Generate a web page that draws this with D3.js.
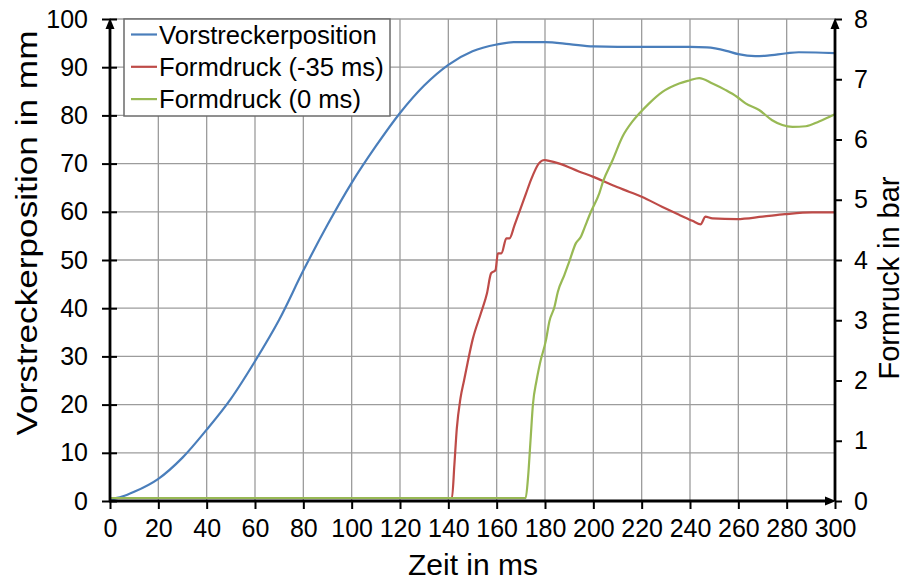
<!DOCTYPE html>
<html>
<head>
<meta charset="utf-8">
<script src="https://cdn.jsdelivr.net/npm/d3@7"></script>
<style>
  body { margin: 0; background: #fff; }
  svg { font-family: Arial, "Liberation Sans", sans-serif; }
</style>
</head>
<body>
<div id="chart"></div>
<script>
// time axis (ms)
var xTicks = [0, 20, 40, 60, 80, 100, 120, 140, 160, 180, 200, 220, 240, 260, 280, 300];
var leftTicks = [0, 10, 20, 30, 40, 50, 60, 70, 80, 90, 100];
var rightTicks = [0, 1, 2, 3, 4, 5, 6, 7, 8];

// Vorstreckerposition in mm
var blueT = [0, 5, 10, 20, 30, 40, 50, 60, 70, 80, 90, 100, 110, 120, 130, 140, 150, 160, 167, 180, 190, 200, 210, 220, 230, 240, 247, 255, 260, 267, 272, 280, 285, 295, 300];
var blueV = [0.3, 0.9, 1.9, 4.6, 9.0, 14.8, 21.2, 29.0, 37.6, 47.8, 57.3, 66.0, 73.6, 80.5, 86.2, 90.5, 93.3, 94.7, 95.2, 95.2, 94.8, 94.3, 94.2, 94.2, 94.2, 94.2, 94.1, 93.4, 92.7, 92.3, 92.4, 92.9, 93.1, 93.0, 92.9];

// Formdruck (-35 ms) in bar
var redT = [0, 141.5, 142.5, 143.5, 145, 146.5, 148, 150, 153.5, 156, 157.7, 159.5, 160.5, 162, 164, 165.3, 167.4, 169.4, 172.2, 174.2, 177.4, 179.8, 181.2, 186, 194, 200, 208, 215, 220, 228.6, 235.5, 241, 244.5, 245.2, 246.3, 249.3, 259.4, 270, 279.3, 290.6, 300];
var redP = [0.05, 0.05, 0.6, 1.2, 1.7, 2.0, 2.3, 2.67, 3.12, 3.45, 3.78, 3.83, 4.11, 4.11, 4.36, 4.36, 4.58, 4.80, 5.11, 5.33, 5.60, 5.66, 5.65, 5.60, 5.47, 5.38, 5.24, 5.13, 5.05, 4.88, 4.75, 4.65, 4.59, 4.64, 4.72, 4.69, 4.68, 4.72, 4.76, 4.79, 4.79];

// Formdruck (0 ms) in bar
var greenT = [0, 172, 173, 174, 175, 176.5, 178, 180.4, 181.8, 183.9, 185.3, 188, 190, 192.8, 194.9, 196.3, 199, 202.5, 204, 208, 212.1, 216.2, 219, 223.1, 228.6, 235.5, 239.7, 243.8, 249.3, 254.8, 259.4, 263, 268.6, 274, 278.2, 282.4, 287.9, 293.4, 300];
var greenP = [0.05, 0.05, 0.4, 1.0, 1.6, 2.0, 2.3, 2.67, 2.98, 3.22, 3.47, 3.75, 3.97, 4.28, 4.39, 4.53, 4.80, 5.11, 5.3, 5.66, 6.05, 6.30, 6.43, 6.60, 6.79, 6.93, 6.98, 7.02, 6.93, 6.82, 6.71, 6.60, 6.49, 6.32, 6.24, 6.21, 6.22, 6.30, 6.42];

var seriesNames = ["Vorstreckerposition", "Formdruck (-35 ms)", "Formdruck (0 ms)"];
var seriesColors = ["#4a7ebb", "#be4b48", "#98b954"];

var svgWidth = 907, svgHeight = 582;
var margin = { top: 19, right: 72, bottom: 81, left: 110 };
var width = svgWidth - margin.left - margin.right;
var height = svgHeight - margin.top - margin.bottom;

var svg = d3.select("#chart").append("svg")
  .attr("width", svgWidth)
  .attr("height", svgHeight);

var g = svg.append("g")
  .attr("transform", "translate(" + margin.left + "," + margin.top + ")");

var x = d3.scaleLinear().domain([0, 300]).range([0, width]);
var yL = d3.scaleLinear().domain([0, 100]).range([height, 0]);
var yR = d3.scaleLinear().domain([0, 8]).range([height, 0]);

// grid
g.append("g").selectAll("line").data(xTicks.slice(1)).enter().append("line")
  .attr("x1", function (d) { return x(d); })
  .attr("x2", function (d) { return x(d); })
  .attr("y1", 0).attr("y2", height)
  .attr("stroke", "#9c9c9c").attr("stroke-width", 1.3);
g.append("g").selectAll("line").data(leftTicks.slice(1)).enter().append("line")
  .attr("x1", 0).attr("x2", width)
  .attr("y1", function (d) { return yL(d); })
  .attr("y2", function (d) { return yL(d); })
  .attr("stroke", "#9c9c9c").attr("stroke-width", 1.3);

// lines
function zip(ts, vs) {
  return ts.map(function (t, i) { return { t: t, v: vs[i] }; });
}
var lineL = d3.line().curve(d3.curveMonotoneX)
  .x(function (d) { return x(d.t); }).y(function (d) { return yL(d.v); });
var lineR = d3.line().curve(d3.curveMonotoneX)
  .x(function (d) { return x(d.t); }).y(function (d) { return yR(d.v); });

g.append("path").datum(zip(blueT, blueV))
  .attr("fill", "none").attr("stroke", seriesColors[0]).attr("stroke-width", 2.2)
  .attr("stroke-linejoin", "round").attr("d", lineL);
g.append("path").datum(zip(redT, redP))
  .attr("fill", "none").attr("stroke", seriesColors[1]).attr("stroke-width", 2.2)
  .attr("stroke-linejoin", "round").attr("d", lineR);
g.append("path").datum(zip(greenT, greenP))
  .attr("fill", "none").attr("stroke", seriesColors[2]).attr("stroke-width", 2.2)
  .attr("stroke-linejoin", "round").attr("d", lineR);

// axes
var axB = g.append("g")
  .attr("transform", "translate(0," + height + ")")
  .call(d3.axisBottom(x).tickValues(xTicks).tickSize(8).tickPadding(10));
var axL = g.append("g")
  .call(d3.axisLeft(yL).tickValues(leftTicks).tickSize(8).tickPadding(14));
var axR = g.append("g")
  .attr("transform", "translate(" + width + ",0)")
  .call(d3.axisRight(yR).tickValues(rightTicks).tickSize(7).tickPadding(12));

[axB, axL, axR].forEach(function (a) {
  a.select(".domain").remove();
  a.selectAll(".tick line").attr("stroke", "#000").attr("stroke-width", 2);
  a.selectAll(".tick text").attr("fill", "#000").style("font-size", "25px");
});
// left ticks cross the axis
axL.selectAll(".tick line").attr("x1", 7);

g.append("line").attr("x1", 0).attr("x2", 0).attr("y1", height).attr("y2", 6)
  .attr("stroke", "#000").attr("stroke-width", 2.8);
g.append("line").attr("x1", width).attr("x2", width).attr("y1", height).attr("y2", 6)
  .attr("stroke", "#000").attr("stroke-width", 2.8);
g.append("line").attr("x1", -1).attr("x2", width - 6).attr("y1", height).attr("y2", height)
  .attr("stroke", "#000").attr("stroke-width", 2.8);

// arrow heads
g.append("path").attr("d", "M0,-1 L-4.5,10 L4.5,10 Z").attr("fill", "#000");
g.append("path").attr("d", "M" + width + ",-1 l-4.5,11 l9,0 Z").attr("fill", "#000");
g.append("path").attr("d", "M" + (width + 1) + "," + height + " l-11,-4.5 l0,9 Z").attr("fill", "#000");

// axis titles
svg.append("text")
  .attr("x", 473).attr("y", 575)
  .attr("text-anchor", "middle")
  .style("font-size", "29px")
  .attr("textLength", 130)
  .attr("lengthAdjust", "spacingAndGlyphs")
  .text("Zeit in ms");
svg.append("text")
  .attr("transform", "translate(37,233) rotate(-90)")
  .attr("text-anchor", "middle")
  .style("font-size", "30px")
  .attr("textLength", 405)
  .attr("lengthAdjust", "spacingAndGlyphs")
  .text("Vorstreckerposition in mm");
svg.append("text")
  .attr("transform", "translate(899,278) rotate(-90)")
  .attr("text-anchor", "middle")
  .style("font-size", "29px")
  .text("Formruck in bar");

// legend
var legend = svg.append("g").attr("transform", "translate(124,19)");
legend.append("rect")
  .attr("width", 266).attr("height", 97)
  .attr("fill", "#fff").attr("stroke", "#6b6b6b").attr("stroke-width", 1.5);
seriesNames.forEach(function (name, i) {
  var yy = 15.5 + i * 32.3;
  legend.append("line")
    .attr("x1", 7).attr("x2", 33).attr("y1", yy).attr("y2", yy)
    .attr("stroke", seriesColors[i]).attr("stroke-width", 2.2);
  legend.append("text")
    .attr("x", 35).attr("y", yy + 9)
    .style("font-size", "25.6px")
    .text(name);
});
</script>
</body>
</html>
